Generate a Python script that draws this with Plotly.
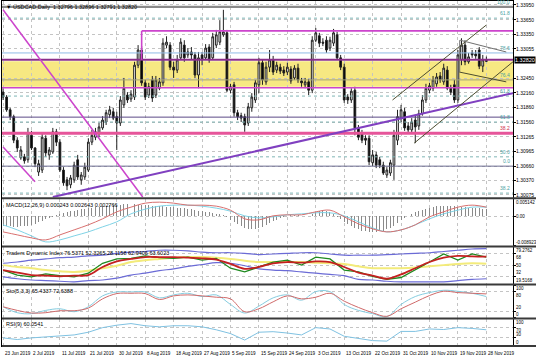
import plotly.graph_objects as go
from plotly.subplots import make_subplots

# ---------------- data ----------------
date_labels = ["23 Jun 2019", "2 Jul 2019", "11 Jul 2019", "21 Jul 2019", "30 Jul 2019",
               "8 Aug 2019", "18 Aug 2019", "27 Aug 2019", "5 Sep 2019", "15 Sep 2019",
               "24 Sep 2019", "3 Oct 2019", "13 Oct 2019", "22 Oct 2019", "31 Oct 2019",
               "10 Nov 2019", "19 Nov 2019", "28 Nov 2019"]

opens = [1.3217, 1.3207, 1.3181, 1.3167, 1.3119, 1.3083, 1.3085, 1.3079, 1.3129, 1.3103,
         1.3054, 1.3058, 1.3123, 1.3089, 1.3095, 1.3136, 1.3115, 1.3058, 1.3038, 1.3028,
         1.3038, 1.3079, 1.3038, 1.3044, 1.3058, 1.3115, 1.3125, 1.3132, 1.3144, 1.3156,
         1.3171, 1.3177, 1.3167, 1.3154, 1.3191, 1.3211, 1.3203, 1.3207, 1.3272, 1.3303,
         1.3236, 1.3211, 1.3242, 1.3211, 1.3225, 1.3236, 1.3313, 1.3313, 1.3268, 1.3262,
         1.3287, 1.3313, 1.3293, 1.3299, 1.3293, 1.3252, 1.3293, 1.3287, 1.3309, 1.3287,
         1.3313, 1.3319, 1.3334, 1.3338, 1.3221, 1.3232, 1.3175, 1.3169, 1.3167, 1.3154,
         1.3185, 1.3201, 1.3232, 1.3277, 1.3238, 1.3268, 1.3283, 1.3262, 1.3268, 1.3262,
         1.3258, 1.3264, 1.3246, 1.3266, 1.3240, 1.3232, 1.3238, 1.3221, 1.3323, 1.3332,
         1.3319, 1.3323, 1.3307, 1.3317, 1.3334, 1.3287, 1.3268, 1.3207, 1.3201, 1.3221,
         1.3144, 1.3134, 1.3123, 1.3123, 1.3073, 1.3089, 1.3079, 1.3068, 1.3048, 1.3052,
         1.3068, 1.3119, 1.3164, 1.3177, 1.3148, 1.3140, 1.3160, 1.3148, 1.3173, 1.3201,
         1.3221, 1.3225, 1.3234, 1.3250, 1.3238, 1.3262, 1.3225, 1.3232, 1.3201, 1.3283,
         1.3313, 1.3279, 1.3297, 1.3295, 1.3303, 1.3270, 1.32796]
highs = [1.3225, 1.3211, 1.3185, 1.3171, 1.3125, 1.3107, 1.3091, 1.3144, 1.3138, 1.3105,
         1.3079, 1.3134, 1.3129, 1.3105, 1.3144, 1.3142, 1.3121, 1.3064, 1.3044, 1.3048,
         1.3075, 1.3089, 1.3054, 1.3073, 1.3123, 1.3140, 1.3144, 1.3154, 1.3168, 1.3181,
         1.3189, 1.3185, 1.3177, 1.3209, 1.3246, 1.3217, 1.3221, 1.3279, 1.3313, 1.3311,
         1.3242, 1.3236, 1.3250, 1.3250, 1.3246, 1.3327, 1.3331, 1.3319, 1.3279, 1.3293,
         1.3327, 1.3323, 1.3307, 1.3309, 1.3299, 1.3299, 1.3299, 1.3315, 1.3315, 1.3338,
         1.3344, 1.3364, 1.3385, 1.3344, 1.3234, 1.3238, 1.3181, 1.3175, 1.3173, 1.3195,
         1.3215, 1.3242, 1.3287, 1.3283, 1.3279, 1.3303, 1.3291, 1.3279, 1.3275, 1.3270,
         1.3277, 1.3270, 1.3272, 1.3275, 1.3246, 1.3246, 1.3244, 1.3331, 1.3348, 1.3338,
         1.3327, 1.3331, 1.3330, 1.3346, 1.3340, 1.3293, 1.3275, 1.3213, 1.3225, 1.3228,
         1.3150, 1.3140, 1.3129, 1.3129, 1.3099, 1.3095, 1.3085, 1.3075, 1.3064, 1.3079,
         1.3140, 1.3181, 1.3191, 1.3185, 1.3156, 1.3164, 1.3171, 1.3181, 1.3211, 1.3234,
         1.3236, 1.3250, 1.3256, 1.3258, 1.3275, 1.3270, 1.3232, 1.3242, 1.3303, 1.3327,
         1.3323, 1.3297, 1.3303, 1.3303, 1.3309, 1.3293, 1.32896]
lows = [1.3201, 1.3177, 1.3160, 1.3113, 1.3095, 1.3079, 1.3071, 1.3073, 1.3099, 1.3064,
        1.3046, 1.3052, 1.3085, 1.3079, 1.3091, 1.3107, 1.3054, 1.3026, 1.3017, 1.3021,
        1.3032, 1.3038, 1.3028, 1.3038, 1.3054, 1.3109, 1.3119, 1.3125, 1.3140, 1.3150,
        1.3164, 1.3160, 1.3099, 1.3148, 1.3185, 1.3195, 1.3197, 1.3201, 1.3266, 1.3230,
        1.3201, 1.3205, 1.3197, 1.3205, 1.3221, 1.3230, 1.3307, 1.3262, 1.3246, 1.3256,
        1.3283, 1.3279, 1.3287, 1.3283, 1.3246, 1.3225, 1.3272, 1.3283, 1.3277, 1.3283,
        1.3307, 1.3313, 1.3330, 1.3217, 1.3215, 1.3167, 1.3160, 1.3156, 1.3136, 1.3148,
        1.3177, 1.3195, 1.3215, 1.3232, 1.3232, 1.3258, 1.3252, 1.3256, 1.3254, 1.3250,
        1.3252, 1.3234, 1.3242, 1.3236, 1.3228, 1.3225, 1.3211, 1.3215, 1.3319, 1.3309,
        1.3311, 1.3297, 1.3301, 1.3311, 1.3283, 1.3262, 1.3195, 1.3193, 1.3195, 1.3129,
        1.3119, 1.3113, 1.3109, 1.3068, 1.3066, 1.3062, 1.3062, 1.3048, 1.3042, 1.3046,
        1.3038, 1.3109, 1.3156, 1.3138, 1.3134, 1.3134, 1.3113, 1.3140, 1.3169, 1.3195,
        1.3215, 1.3219, 1.3228, 1.3236, 1.3232, 1.3221, 1.3211, 1.3195, 1.3195, 1.3272,
        1.3272, 1.3275, 1.3287, 1.3285, 1.3264, 1.3258, 1.32791]
closes = [1.3207, 1.3181, 1.3167, 1.3119, 1.3103, 1.3099, 1.3077, 1.3134, 1.3103, 1.3071,
          1.3071, 1.3125, 1.3093, 1.3099, 1.3136, 1.3115, 1.3058, 1.3032, 1.3026, 1.3042,
          1.3068, 1.3044, 1.3048, 1.3064, 1.3115, 1.3129, 1.3136, 1.3146, 1.3160, 1.3175,
          1.3181, 1.3164, 1.3154, 1.3201, 1.3225, 1.3201, 1.3213, 1.3272, 1.3303, 1.3236,
          1.3207, 1.3228, 1.3205, 1.3242, 1.3238, 1.3317, 1.3319, 1.3268, 1.3262, 1.3283,
          1.3319, 1.3287, 1.3299, 1.3293, 1.3252, 1.3287, 1.3283, 1.3307, 1.3283, 1.3330,
          1.3334, 1.3340, 1.3340, 1.3221, 1.3228, 1.3175, 1.3167, 1.3164, 1.3150, 1.3187,
          1.3207, 1.3236, 1.3277, 1.3242, 1.3268, 1.3283, 1.3258, 1.3272, 1.3260, 1.3256,
          1.3268, 1.3240, 1.3266, 1.3242, 1.3236, 1.3238, 1.3221, 1.3323, 1.3338, 1.3317,
          1.3317, 1.3303, 1.3323, 1.3338, 1.3287, 1.3268, 1.3201, 1.3201, 1.3219, 1.3144,
          1.3125, 1.3119, 1.3119, 1.3075, 1.3089, 1.3068, 1.3068, 1.3052, 1.3058, 1.3073,
          1.3129, 1.3167, 1.3181, 1.3144, 1.3140, 1.3156, 1.3146, 1.3173, 1.3201, 1.3225,
          1.3230, 1.3242, 1.3248, 1.3242, 1.3266, 1.3225, 1.3217, 1.3201, 1.3293, 1.3313,
          1.3279, 1.3289, 1.3293, 1.3291, 1.3270, 1.3283, 1.32820]

macd_hist = [-0.0029, -0.0030, -0.0030, -0.0031, -0.0031, -0.0030, -0.0030, -0.0028, -0.0025, -0.0022,
             -0.0018, -0.0014, -0.0008, -0.0004, -0.0001, 0.0003, 0.0007, 0.0010, 0.0012, 0.0015,
             0.0016, 0.0018, 0.0020, 0.0021, 0.0023, 0.0025, 0.0026, 0.0028, 0.0030, 0.0031,
             0.0033, 0.0034, 0.0034, 0.0034, 0.0035, 0.0036, 0.0036, 0.0035, 0.0034, 0.0034,
             0.0033, 0.0032, 0.0031, 0.0030, 0.0030, 0.0029, 0.0028, 0.0027, 0.0026, 0.0025,
             0.0025, 0.0023, 0.0021, 0.0020, 0.0018, 0.0016, 0.0015, 0.0013, 0.0011, 0.0010,
             0.0008, 0.0007, 0.0005, -0.0003, -0.0010, -0.0016, -0.0023, -0.0030, -0.0034, -0.0038,
             -0.0039, -0.0039, -0.0036, -0.0031, -0.0026, -0.0021, -0.0015, -0.0010, -0.0005, -0.0002,
             0.0002, 0.0003, 0.0004, 0.0003, 0.0002, 0.0002, 0.0002, 0.0008, 0.0013, 0.0016,
             0.0018, 0.0016, 0.0013, 0.0008, -0.0002, -0.0008, -0.0016, -0.0023, -0.0030, -0.0034,
             -0.0039, -0.0043, -0.0045, -0.0047, -0.0048, -0.0047, -0.0045, -0.0043, -0.0039, -0.0034,
             -0.0028, -0.0020, -0.0011, -0.0004, 0.0002, 0.0007, 0.0011, 0.0016, 0.0019, 0.0022,
             0.0025, 0.0027, 0.0029, 0.0030, 0.0030, 0.0030, 0.0030, 0.0029, 0.0028, 0.0027,
             0.0026, 0.0025, 0.0025, 0.0024, 0.0023, 0.0022, 0.0021]
macd_main = [-0.0047, -0.0056, -0.0065, -0.0071, -0.0056, -0.0041, -0.0026, -0.0008, 0.0013, 0.0027,
             0.0039, 0.0042, 0.0039, 0.0033, 0.0033, 0.0030, 0.0018, -0.0008, -0.0011, 0.0001,
             0.0004, 0.0004, 0.0013, 0.0018, -0.0002, -0.0023, -0.0038, -0.0047, -0.0041, -0.0026,
             -0.0002, 0.0013, 0.0027, 0.0033, 0.0027]
macd_signal = [-0.0026, -0.0041, -0.0059, -0.0077, -0.0071, -0.0059, -0.0047, -0.0032, -0.0017, 0.0007,
               0.0021, 0.0030, 0.0033, 0.0033, 0.0030, 0.0024, 0.0015, 0.0001, -0.0005, -0.0002,
               0.0004, 0.0007, 0.0010, 0.0010, 0.0001, -0.0017, -0.0035, -0.0047, -0.0041, -0.0026,
               -0.0008, 0.0007, 0.0018, 0.0027, 0.0027]

tdi_upper = [53, 55, 58, 60, 62, 63, 65, 66, 69, 71, 72, 74, 74, 73, 71, 70, 70, 69, 67, 68,
             69, 70, 70, 68, 66, 66, 66, 67, 68, 69, 70, 72, 74, 76, 76.5]
tdi_lower = [31, 28, 26, 25, 24, 23, 25, 26, 29, 34, 37, 41, 44, 48, 51, 54, 53, 49, 44, 42,
             41, 39, 37, 35, 33, 27, 26, 24, 23, 23, 23, 23, 25, 27, 28]
tdi_base = [50, 47, 45, 42, 40, 39, 41, 45, 49, 55, 58, 60, 62, 63, 63, 62, 60, 57, 55, 55,
            55, 55, 54, 53, 52, 48, 45, 45, 45, 46, 48, 50, 52, 53, 52.3]
tdi_price = [42, 34, 31, 36, 33, 31, 37, 53, 60, 61, 65, 62, 61, 63, 58, 61, 45, 39, 47, 55,
             58, 50, 63, 60, 42, 39, 32, 27, 30, 42, 55, 68, 58, 68, 63]
tdi_signal = [42, 38, 34, 33, 32, 33, 34, 47, 56, 60, 63, 63, 63, 62, 61, 59, 52, 44, 47, 53,
              55, 54, 56, 55, 47, 38, 33, 28, 35, 45, 55, 62, 65, 64, 63.6]

sto_main = [34, 16, 13, 23, 28, 19, 34, 67, 79, 79, 79, 61, 70, 75, 65, 70, 41, 15, 36, 61,
            70, 54, 80, 80, 41, 23, 13, 4, 41, 65, 77, 84, 81, 75, 65]
sto_signal = [34, 23, 15, 16, 22, 22, 30, 58, 74, 75, 74, 56, 67, 70, 67, 63, 58, 19, 28, 49,
              67, 58, 63, 75, 51, 32, 16, 5, 28, 48, 68, 81, 77, 75, 73]
rsi_vals = [30, 24, 30, 33, 36, 41, 51, 68, 77, 83, 75, 71, 75, 75, 71, 60, 46, 22, 51, 53,
            48, 41, 68, 63, 36, 27, 20, 18, 54, 54, 63, 61, 68, 65, 60]

price_ticks = [1.33950, 1.33650, 1.33350, 1.33055, 1.32450, 1.32160, 1.31860,
               1.31560, 1.31265, 1.30965, 1.30660, 1.30370, 1.30075]
macd_ticks = [0.005142, 0.0, -0.008923]
macd_tick_text = ["0.005142", "0.00", "-0.008923"]
tdi_ticks = [79.2762, 68, 50, 32, 19.5168]
sto_ticks = [100, 80, 20, 0]
rsi_ticks = [100, 70, 30, 0]

# ---------------- figure ----------------
FONT = "Liberation Sans, Arial, sans-serif"
bars = list(range(len(closes)))
samp = list(range(0, len(closes), 4))
tick_bars = list(range(0, 8 * len(date_labels), 8))

fig = make_subplots(rows=5, cols=1, shared_xaxes=True, vertical_spacing=0)

fig.add_trace(go.Candlestick(
    x=bars, open=opens, high=highs, low=lows, close=closes,
    increasing=dict(line=dict(color="#202020", width=1), fillcolor="white"),
    decreasing=dict(line=dict(color="#202020", width=1), fillcolor="black"),
    whiskerwidth=0, showlegend=False, hoverinfo="skip"), row=1, col=1)

fig.add_trace(go.Bar(x=bars, y=macd_hist, width=0.28, marker=dict(color="#8a8a8a", line=dict(width=0)),
                     showlegend=False), row=2, col=1)
fig.add_trace(go.Scatter(x=samp, y=macd_signal, mode="lines", line=dict(color="#7fd3e6", width=1, shape="spline"),
                         showlegend=False), row=2, col=1)
fig.add_trace(go.Scatter(x=samp, y=macd_main, mode="lines", line=dict(color="#d9706f", width=1, shape="spline"),
                         showlegend=False), row=2, col=1)

fig.add_trace(go.Scatter(x=samp, y=tdi_upper, mode="lines", line=dict(color="#6b6bd6", width=1.2, shape="spline"),
                         showlegend=False), row=3, col=1)
fig.add_trace(go.Scatter(x=samp, y=tdi_lower, mode="lines", line=dict(color="#6b6bd6", width=1.2, shape="spline"),
                         showlegend=False), row=3, col=1)
fig.add_trace(go.Scatter(x=samp, y=tdi_base, mode="lines", line=dict(color="#f3eb7a", width=2, shape="spline"),
                         showlegend=False), row=3, col=1)
fig.add_trace(go.Scatter(x=samp, y=tdi_price, mode="lines", line=dict(color="#1f8a1f", width=1.3),
                         showlegend=False), row=3, col=1)
fig.add_trace(go.Scatter(x=samp, y=tdi_signal, mode="lines", line=dict(color="#c42020", width=1.8, shape="spline"),
                         showlegend=False), row=3, col=1)

fig.add_trace(go.Scatter(x=samp, y=sto_main, mode="lines", line=dict(color="#86cde0", width=1, shape="spline"),
                         showlegend=False), row=4, col=1)
fig.add_trace(go.Scatter(x=samp, y=sto_signal, mode="lines", line=dict(color="#d06a6a", width=1, shape="spline"),
                         showlegend=False), row=4, col=1)

fig.add_trace(go.Scatter(x=samp, y=rsi_vals, mode="lines", line=dict(color="#7fc2e2", width=1),
                         showlegend=False), row=5, col=1)

# ---------------- axes ----------------
xcommon = dict(range=[-0.3, 143.5], tickvals=tick_bars, showticklabels=False, ticks="",
               showgrid=True, gridcolor="#c4c4c4", griddash="dot", gridwidth=1,
               showline=True, linecolor="black", linewidth=1, mirror=True, zeroline=False,
               rangeslider=dict(visible=False), fixedrange=True)
for i in range(1, 6):
    fig.update_xaxes(**xcommon, row=i, col=1)

ycommon = dict(side="right", showline=True, linecolor="black", linewidth=1, mirror=True,
               ticks="outside", ticklen=2, tickcolor="black", zeroline=False, showticklabels=False,
               showgrid=True, gridcolor="#c4c4c4", griddash="dot", gridwidth=1, automargin=False,
               fixedrange=True)

fig.update_layout(
    yaxis=dict(**ycommon, domain=[0.4304, 1.0], range=[1.3002, 1.3403], tickvals=price_ticks),
    yaxis2=dict(**ycommon, domain=[0.2899, 0.4261], range=[-0.008923, 0.005142], tickvals=macd_ticks),
    yaxis3=dict(**ycommon, domain=[0.1797, 0.2870], range=[19.5168, 79.2762], tickvals=tdi_ticks),
    yaxis4=dict(**ycommon, domain=[0.0812, 0.1768], range=[0, 100], tickvals=sto_ticks),
    yaxis5=dict(**ycommon, domain=[0.0, 0.0783], range=[0, 100], tickvals=rsi_ticks),
)

# ---------------- drawing objects on the price panel ----------------
shapes = []
shapes.append(dict(type="rect", xref="x domain", yref="y", x0=0, x1=1, y0=1.3228, y1=1.3280,
                   fillcolor="rgb(247,232,130)", line=dict(width=0), layer="below"))


def hline(y, color, width, dash="solid"):
    return dict(type="line", xref="x domain", yref="y", x0=0, x1=1, y0=y, y1=y,
                line=dict(color=color, width=width, dash=dash), layer="above")


shapes += [
    hline(1.3391, "#8a8a8a", 2.2),
    hline(1.3368, "#7fb5b5", 1, "dot"),
    hline(1.3297, "#8fbbe6", 1),
    hline(1.3283, "#8a2f8a", 2),
    hline(1.3242, "#a3a37a", 1),
    hline(1.3226, "#cc44cc", 1.6),
    hline(1.3209, "#7fb5b5", 1, "dot"),
    hline(1.3166, "#5b4a86", 1),
    hline(1.3156, "#7fb5b5", 1, "dot"),
    hline(1.3133, "#e6559a", 3),
    hline(1.3085, "#7fb5b5", 1, "dot"),
    hline(1.3066, "#6a6a90", 1),
    hline(1.3011, "#7fb5b5", 1, "dot"),
]
shapes.append(dict(type="line", xref="x", yref="y", x0=39, x1=143.5, y0=1.3342, y1=1.3342,
                   line=dict(color="#cc44cc", width=1.6)))
shapes.append(dict(type="line", xref="x", yref="y", x0=39, x1=39, y0=1.3342, y1=1.3283,
                   line=dict(color="#cc44cc", width=1.6)))


def seg(x0, y0, x1, y1, color, width):
    return dict(type="line", xref="x", yref="y", x0=x0, y0=y0, x1=x1, y1=y1,
                line=dict(color=color, width=width), layer="above")


shapes += [
    seg(0, 1.3385, 39.3, 1.3003, "#cc44cc", 1.5),
    seg(0, 1.3105, 9.0, 1.3034, "#cc44cc", 1.5),
    seg(14.0, 1.3003, 143.5, 1.3215, "#8040c0", 2),
    seg(109.6, 1.3201, 136.0, 1.3354, "#4d4d30", 1),
    seg(115.7, 1.3113, 143.5, 1.3279, "#4d4d30", 1),
    seg(128.6, 1.3323, 141.6, 1.3299, "#707070", 1),
    seg(128.4, 1.3258, 141.6, 1.3238, "#4d4d30", 1),
    seg(128.5, 1.3323, 128.5, 1.3258, "#707070", 1),
]

for yp in [0.4283, 0.2884, 0.1783, 0.0797, 0.0]:
    shapes.append(dict(type="line", xref="paper", yref="paper", x0=0, x1=1.046, y0=yp, y1=yp,
                       line=dict(color="#3a3a3a", width=2)))

annotations = []
fib_labels = [("100.0", 1.3391, "#4a9f9f"), ("61.8", 1.3368, "#4a9f9f"), ("78.6", 1.3297, "#4a9f9f"),
              ("76.4", 1.3242, "#4a9f9f"), ("61.8", 1.3209, "#4a9f9f"), ("61.8", 1.3156, "#4a9f9f"),
              ("38.2", 1.3133, "#d0304a"), ("50.0", 1.3085, "#4a9f9f"), ("0.0", 1.3066, "#4a9f9f"),
              ("38.2", 1.3011, "#4a9f9f")]
for txt, yv, col in fib_labels:
    annotations.append(dict(x=143.3, y=yv, xref="x", yref="y", text=txt, showarrow=False,
                            xanchor="right", yanchor="bottom", font=dict(size=5, color=col, family=FONT)))


def axis_label(text, yv, yref, anchor="middle", size=5):
    return dict(x=1.0, y=yv, xref="paper", yref=yref, text=text, showarrow=False,
                xanchor="left", yanchor=anchor, xshift=2, borderpad=0,
                font=dict(size=size, color="black", family=FONT))


for v in price_ticks:
    annotations.append(axis_label(f"{v:.5f}", v, "y"))
for v, t, a in zip(macd_ticks, macd_tick_text, ["top", "middle", "bottom"]):
    annotations.append(axis_label(t, v, "y2", a, 4.5))
for v, a in zip(tdi_ticks, ["top", "top", "middle", "bottom", "bottom"]):
    annotations.append(axis_label(f"{v:g}", v, "y3", a, 4.5))
for v, a in zip(sto_ticks, ["top", "top", "bottom", "bottom"]):
    annotations.append(axis_label(f"{v:g}", v, "y4", a, 4.5))
for v, a in zip(rsi_ticks, ["top", "top", "bottom", "bottom"]):
    annotations.append(axis_label(f"{v:g}", v, "y5", a, 4.5))

annotations.append(dict(x=1.0, y=closes[-1], xref="paper", yref="y", text=f"{closes[-1]:.5f}", showarrow=False,
                        xanchor="left", yanchor="middle", xshift=1, bgcolor="black", borderpad=0,
                        font=dict(size=5.5, color="white", family=FONT)))

titles = [
    ("\u25BC USDCAD,Daily  1.32796 1.32896 1.32791 1.32820", 0.997),
    ("MACD(12,26,9) 0.000243 0.002643 0.002766", 0.4240),
    ("Traders Dynamic Index 76.5371 52.3265 28.1158 62.9406 63.6023", 0.2850),
    ("Sto(5,3,3) 65.4337 72.6388", 0.1750),
    ("RSI(9) 60.0541", 0.0770),
]
for txt, yp in titles:
    annotations.append(dict(x=0.004, y=yp, xref="paper", yref="paper", text=txt, showarrow=False,
                            xanchor="left", yanchor="top", font=dict(size=5.5, color="black", family=FONT)))

for b, lab in zip(tick_bars, date_labels):
    annotations.append(dict(x=b, y=-0.008, xref="x", yref="paper", text=lab, showarrow=False,
                            xanchor="left", yanchor="top",
                            font=dict(size=4.6, color="black", family=FONT)))

fig.update_layout(
    width=536, height=358,
    margin=dict(l=2, r=23, t=1, b=12),
    paper_bgcolor="white", plot_bgcolor="white",
    showlegend=False, bargap=0,
    font=dict(family=FONT, size=6, color="black"),
    shapes=shapes, annotations=annotations,
)

fig.write_html("out.html", config={"displayModeBar": False, "staticPlot": True},
               post_script="document.body.style.margin='0';document.body.style.padding='0';"
                           "document.body.style.overflow='hidden';")
